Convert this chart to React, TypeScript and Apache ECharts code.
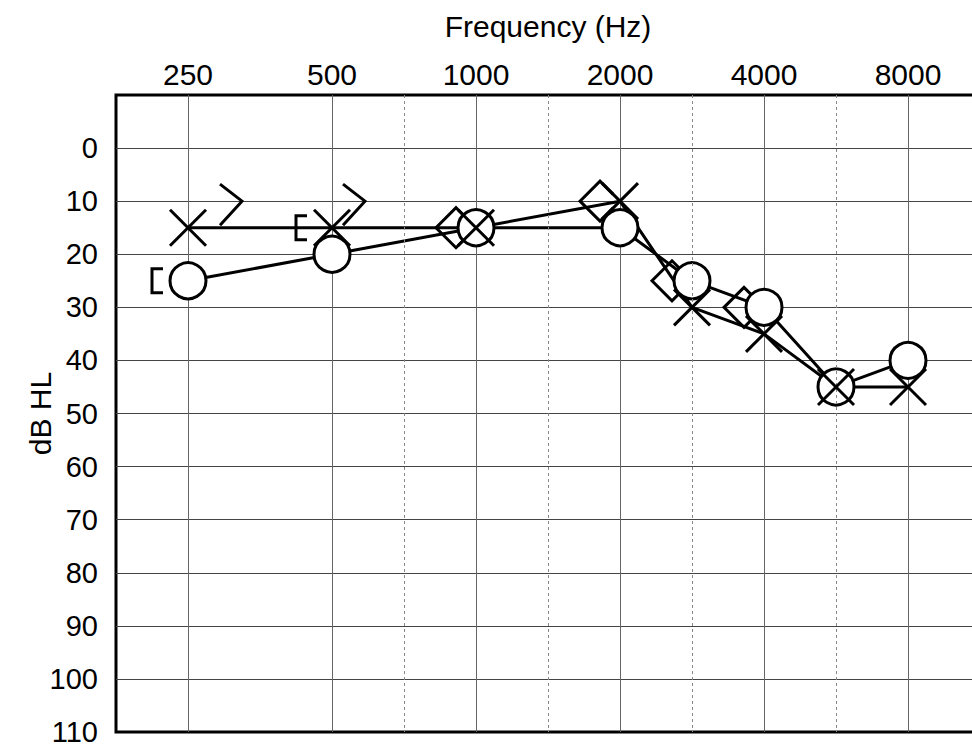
import React, { useEffect, useRef } from 'react';
import * as echarts from 'echarts';

// ---------- data ----------
const FREQUENCIES = [250, 500, 1000, 2000, 3000, 4000, 6000, 8000];
const RIGHT_AIR = [25, 20, 15, 15, 25, 30, 45, 40]; // O
const LEFT_AIR = [15, 15, 15, 10, 30, 35, 45, 45]; // X

const RIGHT_BONE_MASKED_FREQ = [250, 500]; // [
const RIGHT_BONE_MASKED = [25, 15];
const LEFT_BONE_FREQ = [250, 500]; // >
const LEFT_BONE = [10, 10];
const RIGHT_BONE_FREQ = [1000, 2000, 3000, 4000]; // < (bracketed)
const RIGHT_BONE = [15, 10, 25, 30];

const OCTAVE_LABELS = ['250', '500', '1000', '2000', '4000', '8000'];
const INTER_OCTAVE = [750, 1500, 3000, 6000];

// ---------- style ----------
const FONT = '"Liberation Sans", Arial, Helvetica, sans-serif';
const FS_X = 30;
const FS_Y = 29;
const LW = 3;
const LEFT_BONE_DX = [32, 11];

// audiogram frequency -> axis position (octave index, mid-octave frequencies at .5)
const freqPos = (f: number) => {
  const oct = Math.floor(Math.log2(f / 250) + 1e-9);
  const base = 250 * Math.pow(2, oct);
  return oct + (f / base - 1);
};

const pairs = (fs: number[], vs: number[]) => fs.map((f, i) => [freqPos(f), vs[i]]);

const stroke = { stroke: '#000', lineWidth: LW, fill: 'none' };

export default function App() {
  const ref = useRef<HTMLDivElement>(null);
  useEffect(() => {
    if (!ref.current) return;
    const chart = echarts.init(ref.current, undefined, { renderer: 'svg' });

    const xLineColors: string[] = [];
    for (let v = -0.5; v <= 5.5001; v += 0.5) {
      xLineColors.push(Math.abs(v - Math.round(v)) < 1e-6 ? '#666' : 'rgba(0,0,0,0)');
    }

    const option: any = {
      animation: false,
      backgroundColor: '#fff',
      grid: {
        left: 116,
        top: 95,
        width: 864,
        height: 637,
        outerBoundsMode: 'none',
        containLabel: false,
        show: true,
        borderColor: '#000',
        borderWidth: LW,
        backgroundColor: 'transparent',
      },
      xAxis: {
        type: 'value',
        position: 'top',
        min: -0.5,
        max: 5.5,
        interval: 0.5,
        name: 'Frequency (Hz)',
        nameLocation: 'middle',
        nameGap: 54,
        nameMoveOverlap: false,
        nameTextStyle: { fontFamily: FONT, fontSize: FS_X, color: '#000' },
        axisLine: { show: false },
        axisTick: { show: false },
        axisLabel: {
          fontFamily: FONT,
          fontSize: FS_X,
          color: '#000',
          margin: 6,
          formatter: (v: number) => {
            const i = Math.round(v);
            return Math.abs(v - i) < 1e-6 && i >= 0 && i < OCTAVE_LABELS.length ? OCTAVE_LABELS[i] : '';
          },
        },
        splitLine: { show: true, lineStyle: { color: xLineColors, width: 1 } },
      },
      yAxis: {
        type: 'value',
        inverse: true,
        min: -10,
        max: 110,
        interval: 10,
        name: 'dB HL',
        nameLocation: 'middle',
        nameRotate: 90,
        nameGap: 61,
        nameMoveOverlap: false,
        nameTextStyle: { fontFamily: FONT, fontSize: FS_X, color: '#000' },
        axisLine: { show: false },
        axisTick: { show: false },
        axisLabel: {
          fontFamily: FONT,
          fontSize: FS_Y,
          color: '#000',
          margin: 18,
          formatter: (v: number) => (v < 0 ? '' : String(v)),
        },
        splitLine: { show: true, showMinLine: false, showMaxLine: false, lineStyle: { color: '#444', width: 1 } },
      },
      series: [
        {
          type: 'line',
          name: 'right air line',
          data: pairs(FREQUENCIES, RIGHT_AIR),
          symbol: 'none',
          lineStyle: { color: '#000', width: LW },
          z: 2,
          silent: true,
          markLine: {
            silent: true,
            symbol: ['none', 'none'],
            label: { show: false },
            lineStyle: { type: [3, 3], color: '#888', width: 1 },
            emphasis: { disabled: true },
            data: INTER_OCTAVE.map((f) => ({ xAxis: freqPos(f) })),
          },
        },
        {
          type: 'line',
          name: 'left air line',
          data: pairs(FREQUENCIES, LEFT_AIR),
          symbol: 'none',
          lineStyle: { color: '#000', width: LW },
          z: 2,
          silent: true,
        },
        {
          type: 'custom',
          name: 'right bone masked',
          z: 3,
          silent: true,
          data: pairs(RIGHT_BONE_MASKED_FREQ, RIGHT_BONE_MASKED),
          renderItem: (params: any, api: any) => {
            const [cx, cy] = api.coord([api.value(0), api.value(1)]);
            const x = cx - 36;
            return {
              type: 'polyline',
              shape: { points: [[x + 11, cy - 12], [x, cy - 12], [x, cy + 12], [x + 11, cy + 12]] },
              style: stroke,
            };
          },
        },
        {
          type: 'custom',
          name: 'left bone',
          z: 3,
          silent: true,
          data: pairs(LEFT_BONE_FREQ, LEFT_BONE),
          renderItem: (params: any, api: any) => {
            const [cx, cy] = api.coord([api.value(0), api.value(1)]);
            const x = cx + (LEFT_BONE_DX[params.dataIndex] ?? 20);
            return {
              type: 'polyline',
              shape: { points: [[x, cy - 17], [x + 22, cy], [x, cy + 24]] },
              style: stroke,
            };
          },
        },
        {
          type: 'custom',
          name: 'right bone',
          z: 3,
          silent: true,
          data: pairs(RIGHT_BONE_FREQ, RIGHT_BONE),
          renderItem: (params: any, api: any) => {
            const [cx, cy] = api.coord([api.value(0), api.value(1)]);
            return {
              type: 'polyline',
              shape: {
                points: [
                  [cx - 7, cy - 7],
                  [cx - 20, cy - 20],
                  [cx - 40, cy],
                  [cx - 20, cy + 20],
                  [cx - 7, cy + 7],
                ],
              },
              style: stroke,
            };
          },
        },
        {
          type: 'custom',
          name: 'right air O',
          z: 4,
          silent: true,
          data: pairs(FREQUENCIES, RIGHT_AIR),
          renderItem: (params: any, api: any) => {
            const [cx, cy] = api.coord([api.value(0), api.value(1)]);
            return {
              type: 'circle',
              shape: { cx, cy, r: 18 },
              style: { fill: '#fff', stroke: '#000', lineWidth: LW },
            };
          },
        },
        {
          type: 'custom',
          name: 'left air X',
          z: 5,
          silent: true,
          data: pairs(FREQUENCIES, LEFT_AIR),
          renderItem: (params: any, api: any) => {
            const [cx, cy] = api.coord([api.value(0), api.value(1)]);
            const h = 18;
            return {
              type: 'group',
              children: [
                { type: 'line', shape: { x1: cx - h, y1: cy - h, x2: cx + h, y2: cy + h }, style: { stroke: '#000', lineWidth: LW } },
                { type: 'line', shape: { x1: cx - h, y1: cy + h, x2: cx + h, y2: cy - h }, style: { stroke: '#000', lineWidth: LW } },
              ],
            };
          },
        },
      ],
    };

    chart.setOption(option);
    return () => chart.dispose();
  }, []);

  return (
    <div
      ref={ref}
      style={{ position: 'fixed', left: 0, top: 0, width: 972, height: 748, background: '#fff' }}
    />
  );
}
